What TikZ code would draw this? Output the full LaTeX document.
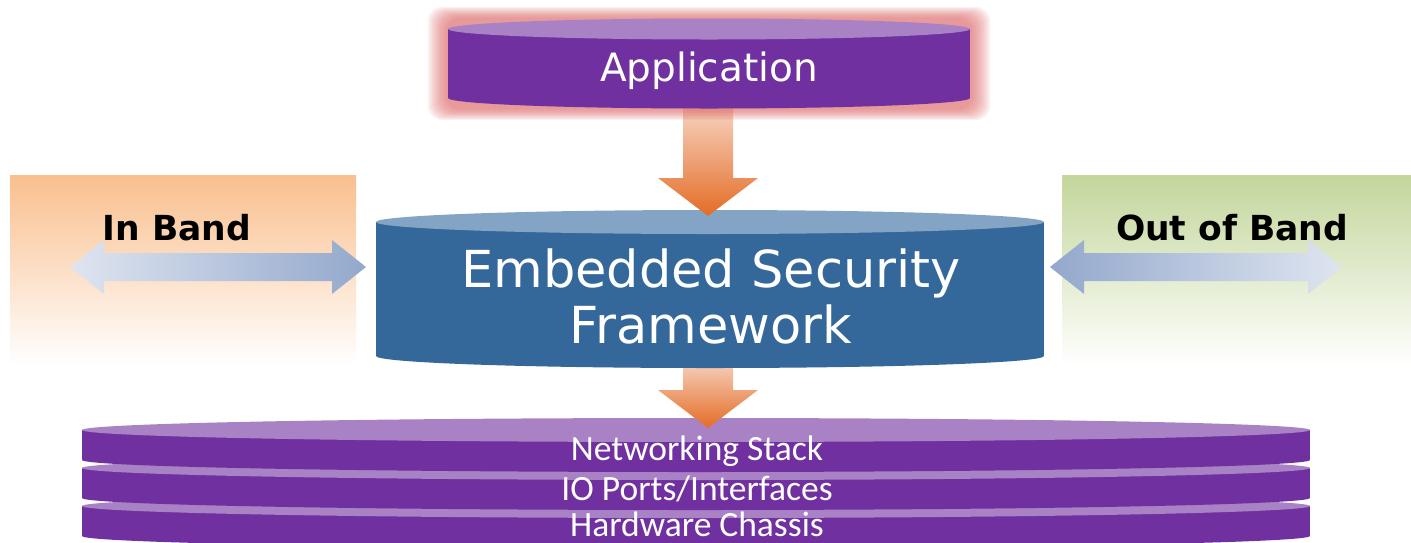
\documentclass[tikz,border=0pt]{standalone}
\usepackage{fontspec}
\newfontfamily\verd{DejaVu Sans}
\newfontfamily\calib{Carlito}
\usetikzlibrary{calc}
\definecolor{purpbody}{HTML}{7030A0}
\definecolor{purptop}{HTML}{A882C4}
\definecolor{bluebody}{HTML}{34679A}
\definecolor{bluetop}{HTML}{84A4C5}
\definecolor{orangebox}{HTML}{F9BF8E}
\definecolor{greenbox}{HTML}{C3D69B}
\definecolor{arrowlight}{HTML}{F7DACB}
\definecolor{arroworange}{HTML}{E46C26}
\definecolor{dalight}{HTML}{DFE5F0}
\definecolor{dadark}{HTML}{93A8CC}
\definecolor{glowred}{HTML}{DC6464}
\newcommand\mycyl[7]{%
  \fill[#7] (#1-#3,#2) rectangle (#1+#3,#2+#5);
  \fill[#7] (#1,#2+#5) ellipse [x radius=#3, y radius=#4];
  \fill[#6] (#1,#2) ellipse [x radius=#3, y radius=#4];
}
\tikzset{
  downarrow/.style={top color=arrowlight, bottom color=arroworange},
  lbl/.style={text=white, inner sep=0pt, anchor=center},
  layerlbl/.style={lbl, font=\calib\fontsize{35.5}{40}\selectfont},
  bandlbl/.style={text=black, inner sep=0pt, font=\verd\bfseries\fontsize{34.5}{40}\selectfont},
}
\begin{document}
\begin{tikzpicture}[x=1pt,y=-1pt]
\useasboundingbox (0,0) rectangle (1411,542);
% side boxes
\shade[top color=orangebox, bottom color=white] (10,175) rectangle (356,365);
\shade[top color=greenbox, bottom color=white] (1062,175) rectangle (1411,365);
% double arrows
\coordinate (ibL) at (70,267);
\coordinate (ibR) at (366,267);
\shade[left color=dalight, right color=dadark]
  (ibL) -- ++(34,-27) -- ++(0,13) -- ($(ibR)+(-34,-14)$) -- ++(0,-13) -- (ibR)
  -- ++(-34,27) -- ++(0,-13) -- ($(ibL)+(34,14)$) -- ++(0,13) -- cycle;
\coordinate (obL) at (1050,267);
\coordinate (obR) at (1342,267);
\shade[left color=dadark, right color=dalight]
  (obL) -- ++(34,-27) -- ++(0,13) -- ($(obR)+(-34,-14)$) -- ++(0,-13) -- (obR)
  -- ++(-34,27) -- ++(0,-13) -- ($(obL)+(34,14)$) -- ++(0,13) -- cycle;
% bottom layers
\mycyl{696}{506}{614}{12}{30}{purptop}{purpbody}
\mycyl{696}{468}{614}{12}{30}{purptop}{purpbody}
\mycyl{696}{430}{614}{12}{30}{purptop}{purpbody}
% arrow 2
\coordinate (d2s) at (708,355);
\coordinate (d2e) at (708,428);
\shade[downarrow] ($(d2s)+(-25,0)$) -- ($(d2s)+(25,0)$) -- ($(d2e)+(25,-38)$) -- ($(d2e)+(50,-38)$)
  -- (d2e) -- ($(d2e)+(-50,-38)$) -- ($(d2e)+(-25,-38)$) -- cycle;
% ESF
\mycyl{710}{222}{334}{12}{134}{bluetop}{bluebody}
% arrow 1
\coordinate (d1s) at (708,100);
\coordinate (d1e) at (708,216);
\shade[downarrow] ($(d1s)+(-25,0)$) -- ($(d1s)+(25,0)$) -- ($(d1e)+(25,-38)$) -- ($(d1e)+(50,-38)$)
  -- (d1e) -- ($(d1e)+(-50,-38)$) -- ($(d1e)+(-25,-38)$) -- cycle;
% glow
\foreach \i in {1,...,10}{
  \fill[glowred, opacity=0.1, rounded corners=14pt] (448-\i*2,19-\i*1.2) rectangle (970+\i*2,108+\i*1.2);
}
% application
\mycyl{709}{29}{261}{10.5}{69}{purptop}{purpbody}
% texts
\node[lbl, font=\verd\fontsize{39}{44}\selectfont] (app) at (709,71) {Application};
\node[lbl, font=\verd\fontsize{51}{56}\selectfont, align=center] (esf) at (711,296) {Embedded Security\\Framework};
\node[bandlbl] (inband) at (177,228) {In Band};
\node[bandlbl] (outband) at (1232,228) {Out of Band};
\node[layerlbl] (net) at (697,451) {Networking Stack};
\node[layerlbl] (io) at (697,489) {IO Ports/Interfaces};
\node[layerlbl] (hw) at (697,524) {Hardware Chassis};
\end{tikzpicture}
\end{document}
